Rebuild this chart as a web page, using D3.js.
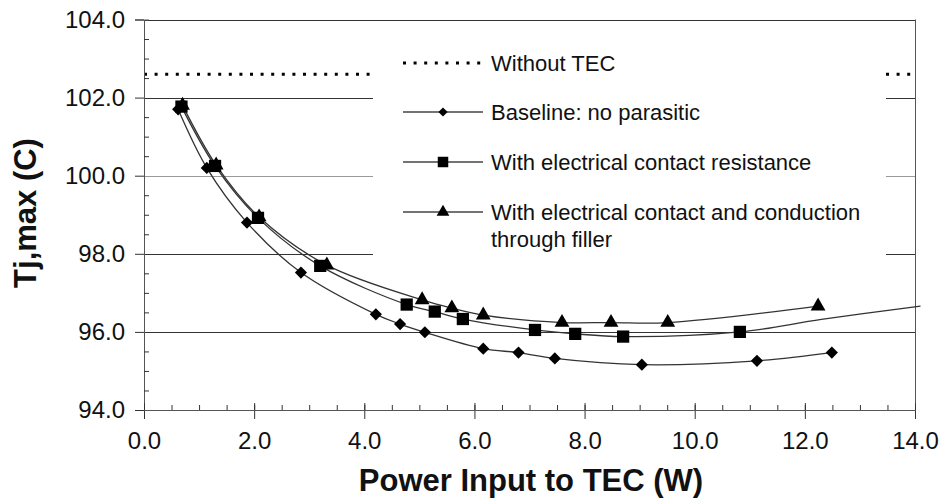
<!DOCTYPE html>
<html>
<head>
<meta charset="utf-8">
<script src="https://cdn.jsdelivr.net/npm/d3@7"></script>
<style>
  body { margin: 0; background: #fff; }
  svg { font-family: "Liberation Sans", Arial, sans-serif; }
</style>
</head>
<body>
<svg id="chart" width="948" height="501"></svg>
<script>
// tick values
var xTicks = [0, 2, 4, 6, 8, 10, 12, 14];
var yTicks = [94, 96, 98, 100, 102, 104];
var withoutTec = 102.6;

// [power W, Tj max C]
var baseline = [[0.62, 101.7], [1.14, 100.2], [1.87, 98.8], [2.85, 97.52], [4.21, 96.45],
  [4.65, 96.2], [5.1, 95.99], [6.16, 95.57], [6.8, 95.47], [7.46, 95.32],
  [9.04, 95.16], [11.13, 95.26], [12.49, 95.47]];
var squares = [[0.68, 101.77], [1.29, 100.25], [2.07, 98.92], [3.2, 97.69], [4.77, 96.7],
  [5.28, 96.52], [5.79, 96.33], [7.1, 96.05], [7.83, 95.95], [8.7, 95.88], [10.82, 96.0]];
var squareTail = [[12.3, 96.32], [14.1, 96.66]]; // fit line runs past the last point
var triangles = [[0.7, 101.8], [1.31, 100.27], [2.09, 98.94], [3.32, 97.71], [5.05, 96.82],
  [5.59, 96.61], [6.16, 96.43], [7.59, 96.24], [8.48, 96.24], [9.51, 96.24], [12.24, 96.66]];

// diamond = square turned by 45 degrees (d3's own diamond is too tall)
var legendItems = [
  {label: ["Without TEC"], shape: null},
  {label: ["Baseline: no parasitic"], shape: d3.symbolSquare, size: 42, rot: 45},
  {label: ["With electrical contact resistance"], shape: d3.symbolSquare, size: 110, rot: 0},
  {label: ["With electrical contact and conduction", "through filler"], shape: d3.symbolTriangle, size: 70, rot: 0}
];

var svg = d3.select("#chart");

var x = d3.scaleLinear().domain([0, 14]).range([144, 915]);
var y = d3.scaleLinear().domain([94, 104]).range([410, 19.5]);
var fmt = d3.format(".1f");

// horizontal grid
svg.append("g").selectAll("line")
  .data(yTicks.filter(function(d) { return d > 94; }))
  .join("line")
    .attr("x1", x(0)).attr("x2", x(14))
    .attr("y1", function(d) { return Math.round(y(d)) + 0.5; })
    .attr("y2", function(d) { return Math.round(y(d)) + 0.5; })
    .attr("stroke", function(d) { return d === 100 ? "#9a9a9a" : "#333"; })
    .attr("stroke-width", 1);

// right border
svg.append("line")
  .attr("x1", x(14) + 0.5).attr("x2", x(14) + 0.5)
  .attr("y1", y(104)).attr("y2", y(94))
  .attr("stroke", "#555");

// without TEC reference line
svg.append("line")
  .attr("x1", x(0)).attr("x2", x(14))
  .attr("y1", y(withoutTec)).attr("y2", y(withoutTec))
  .attr("stroke", "#000").attr("stroke-width", 3)
  .attr("stroke-dasharray", "3,7.6");

// legend background hides the grid behind it
svg.append("rect")
  .attr("x", 373).attr("y", 35).attr("width", 513).attr("height", 226)
  .attr("fill", "#fff");

var line = d3.line()
  .x(function(d) { return x(d[0]); })
  .y(function(d) { return y(d[1]); })
  .curve(d3.curveCatmullRom.alpha(0.5));

var series = [
  {pts: baseline, fit: baseline, shape: d3.symbolSquare, size: 74, rot: 45},
  {pts: squares, fit: squares.concat(squareTail), shape: d3.symbolSquare, size: 150, rot: 0},
  {pts: triangles, fit: triangles, shape: d3.symbolTriangle, size: 95, rot: 0}
];

series.forEach(function(s) {
  svg.append("path")
    .datum(s.fit)
    .attr("d", line)
    .attr("fill", "none")
    .attr("stroke", "#333")
    .attr("stroke-width", 1.3);
});

series.forEach(function(s) {
  svg.append("g").selectAll("path")
    .data(s.pts)
    .join("path")
      .attr("transform", function(d) {
        return "translate(" + x(d[0]) + "," + y(d[1]) + ") rotate(" + s.rot + ")";
      })
      .attr("d", d3.symbol().type(s.shape).size(s.size))
      .attr("fill", "#000");
});

// axes
svg.append("g")
  .attr("transform", "translate(" + x(0) + ",0)")
  .call(d3.axisLeft(y).tickValues(yTicks).tickFormat(fmt).tickSize(9).tickPadding(10));
svg.append("g")
  .attr("transform", "translate(" + x(0) + ",0)")
  .call(d3.axisRight(y).tickValues(d3.range(94.5, 104, 0.5).filter(function(d) { return d % 2 !== 0; }))
    .tickSize(5).tickFormat(""));

svg.append("g")
  .attr("transform", "translate(0," + y(94) + ")")
  .call(d3.axisBottom(x).tickValues(xTicks).tickFormat(fmt).tickSize(9).tickPadding(13));
svg.append("g")
  .attr("transform", "translate(0," + y(94) + ")")
  .call(d3.axisTop(x).tickValues(d3.range(0, 14.01, 0.5)).tickSize(5).tickFormat(""));
svg.append("g")
  .attr("transform", "translate(0," + y(94) + ")")
  .call(d3.axisTop(x).tickValues(xTicks).tickSize(7).tickFormat(""));

svg.selectAll(".domain").attr("stroke", "#555");
svg.selectAll(".tick line").attr("stroke", "#333");
svg.selectAll(".tick text")
  .attr("font-size", 24)
  .attr("font-family", "'Liberation Sans', Arial, sans-serif")
  .attr("fill", "#111");

// axis titles
svg.append("text")
  .attr("x", 531).attr("y", 491)
  .attr("text-anchor", "middle")
  .attr("font-size", 31).attr("font-weight", "bold")
  .attr("fill", "#111")
  .text("Power Input to TEC (W)");

svg.append("text")
  .attr("transform", "translate(36,213) rotate(-90)")
  .attr("text-anchor", "middle")
  .attr("font-size", 31).attr("font-weight", "bold")
  .attr("fill", "#111")
  .text("Tj,max (C)");

// legend
var rowY = [63, 112, 162, 212];
var legend = svg.append("g");
legendItems.forEach(function(item, i) {
  var g = legend.append("g").attr("transform", "translate(0," + rowY[i] + ")");
  if (item.shape) {
    g.append("line").attr("x1", 403).attr("x2", 483)
      .attr("stroke", "#444").attr("stroke-width", 1.3);
    g.append("path")
      .attr("transform", "translate(443,0) rotate(" + item.rot + ")")
      .attr("d", d3.symbol().type(item.shape).size(item.size))
      .attr("fill", "#000");
  } else {
    g.append("line").attr("x1", 403).attr("x2", 483)
      .attr("stroke", "#000").attr("stroke-width", 3)
      .attr("stroke-dasharray", "3,7.6");
  }
  item.label.forEach(function(t, j) {
    g.append("text")
      .attr("x", 491).attr("y", j * 27)
      .attr("dy", "0.35em")
      .attr("font-size", 22)
      .attr("fill", "#111")
      .text(t);
  });
});
</script>
</body>
</html>
